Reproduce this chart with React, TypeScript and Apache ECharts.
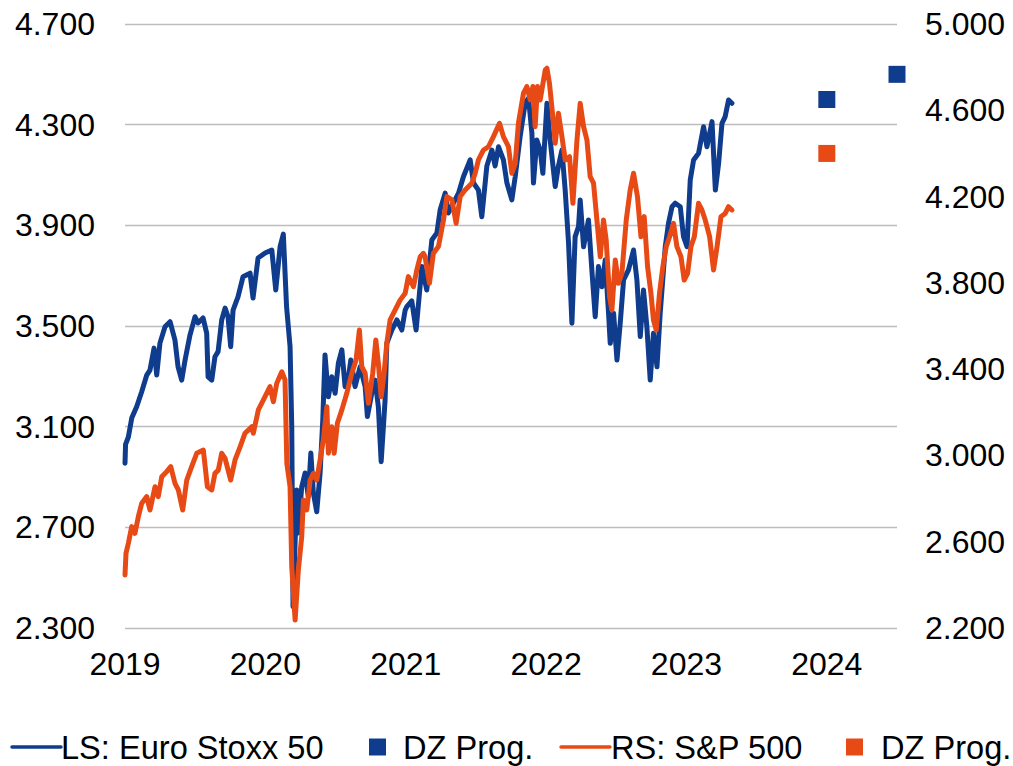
import React, { useEffect, useRef } from "react";
import * as echarts from "echarts";

// x values are decimal years (2019.5 = mid-2019)
const euroStoxx50: [number, number][] = [
  [2019.0, 2955], [2019.004, 3030], [2019.024, 3059], [2019.048, 3134], [2019.083, 3179], [2019.119, 3239],
  [2019.155, 3305], [2019.178, 3325], [2019.207, 3412], [2019.226, 3305], [2019.249, 3432], [2019.285, 3497],
  [2019.321, 3517], [2019.356, 3444], [2019.378, 3338], [2019.404, 3285], [2019.428, 3365], [2019.463, 3464],
  [2019.499, 3537], [2019.52, 3512], [2019.556, 3532], [2019.582, 3472], [2019.592, 3298], [2019.618, 3285],
  [2019.641, 3378], [2019.663, 3398], [2019.689, 3524], [2019.713, 3571], [2019.734, 3537], [2019.753, 3418],
  [2019.77, 3563], [2019.805, 3616], [2019.841, 3696], [2019.891, 3710], [2019.912, 3611], [2019.948, 3770],
  [2019.998, 3790], [2020.046, 3802], [2020.074, 3643], [2020.105, 3815], [2020.128, 3865], [2020.151, 3577],
  [2020.176, 3418], [2020.188, 3100], [2020.197, 2385], [2020.224, 2848], [2020.233, 2677], [2020.259, 2861],
  [2020.283, 2916], [2020.306, 2822], [2020.324, 2995], [2020.342, 2836], [2020.366, 2762], [2020.39, 2916],
  [2020.409, 3126], [2020.425, 3385], [2020.449, 3219], [2020.473, 3298], [2020.497, 3233], [2020.52, 3352],
  [2020.545, 3405], [2020.568, 3259], [2020.592, 3298], [2020.609, 3365], [2020.639, 3259], [2020.675, 3338],
  [2020.711, 3259], [2020.727, 3140], [2020.758, 3233], [2020.782, 3285], [2020.805, 3179], [2020.825, 2961],
  [2020.853, 3206], [2020.865, 3431], [2020.901, 3484], [2020.937, 3524], [2020.972, 3484], [2020.996, 3563],
  [2021.008, 3577], [2021.043, 3600], [2021.074, 3484], [2021.115, 3736], [2021.15, 3643], [2021.186, 3842],
  [2021.222, 3870], [2021.245, 3961], [2021.281, 4028], [2021.304, 3949], [2021.34, 3989], [2021.376, 4028],
  [2021.411, 4093], [2021.459, 4160], [2021.483, 4068], [2021.518, 4040], [2021.542, 3934], [2021.578, 4136],
  [2021.614, 4199], [2021.637, 4136], [2021.661, 4212], [2021.696, 4160], [2021.721, 4068], [2021.756, 4001],
  [2021.78, 4093], [2021.815, 4252], [2021.851, 4386], [2021.875, 4405], [2021.899, 4266], [2021.91, 4068],
  [2021.934, 4239], [2021.958, 4199], [2021.977, 4107], [2022.006, 4385], [2022.029, 4239], [2022.065, 4054],
  [2022.088, 4136], [2022.113, 4199], [2022.136, 4040], [2022.16, 3829], [2022.184, 3511], [2022.207, 3855],
  [2022.231, 3895], [2022.243, 4001], [2022.267, 3815], [2022.302, 3921], [2022.326, 3723], [2022.35, 3537],
  [2022.373, 3736], [2022.398, 3656], [2022.421, 3762], [2022.445, 3551], [2022.457, 3431], [2022.481, 3551],
  [2022.505, 3365], [2022.528, 3511], [2022.552, 3683], [2022.587, 3723], [2022.623, 3802], [2022.647, 3683],
  [2022.671, 3458], [2022.694, 3643], [2022.718, 3497], [2022.742, 3285], [2022.765, 3471], [2022.79, 3338],
  [2022.813, 3551], [2022.849, 3815], [2022.872, 3908], [2022.897, 3974], [2022.92, 3988], [2022.956, 3974],
  [2022.979, 3855], [2023.004, 3815], [2023.027, 4080], [2023.051, 4160], [2023.086, 4186], [2023.122, 4292],
  [2023.146, 4212], [2023.182, 4312], [2023.206, 4040], [2023.229, 4146], [2023.253, 4305], [2023.276, 4332],
  [2023.3, 4398], [2023.324, 4385],
];

const sp500: [number, number][] = [
  [2019.0, 2446], [2019.007, 2546], [2019.024, 2593], [2019.048, 2670], [2019.071, 2639], [2019.095, 2716],
  [2019.119, 2778], [2019.155, 2809], [2019.178, 2747], [2019.214, 2855], [2019.237, 2809], [2019.262, 2901],
  [2019.297, 2925], [2019.326, 2948], [2019.356, 2871], [2019.38, 2840], [2019.411, 2747], [2019.44, 2886],
  [2019.475, 2948], [2019.511, 3010], [2019.558, 3025], [2019.587, 2855], [2019.618, 2840], [2019.641, 2917],
  [2019.665, 2932], [2019.689, 3010], [2019.713, 2986], [2019.753, 2886], [2019.784, 2979], [2019.82, 3040],
  [2019.855, 3103], [2019.903, 3133], [2019.914, 3103], [2019.95, 3211], [2019.986, 3257], [2020.033, 3319],
  [2020.057, 3249], [2020.081, 3334], [2020.117, 3388], [2020.14, 3350], [2020.153, 2963], [2020.176, 2855],
  [2020.188, 2484], [2020.212, 2237], [2020.235, 2469], [2020.259, 2623], [2020.271, 2793], [2020.295, 2747],
  [2020.319, 2886], [2020.342, 2917], [2020.366, 2886], [2020.39, 2979], [2020.413, 3072], [2020.438, 3226],
  [2020.449, 3010], [2020.473, 3133], [2020.49, 3010], [2020.513, 3149], [2020.545, 3211], [2020.58, 3288],
  [2020.616, 3381], [2020.646, 3442], [2020.67, 3581], [2020.687, 3411], [2020.711, 3381], [2020.734, 3242],
  [2020.765, 3381], [2020.787, 3535], [2020.805, 3427], [2020.825, 3272], [2020.846, 3381], [2020.865, 3520],
  [2020.889, 3628], [2020.924, 3674], [2020.96, 3720], [2020.996, 3752], [2021.019, 3829], [2021.055, 3782],
  [2021.079, 3860], [2021.103, 3921], [2021.126, 3937], [2021.138, 3921], [2021.169, 3798], [2021.197, 3937],
  [2021.233, 3968], [2021.269, 4091], [2021.293, 4200], [2021.329, 4185], [2021.359, 4076], [2021.388, 4200],
  [2021.423, 4230], [2021.471, 4262], [2021.495, 4308], [2021.518, 4370], [2021.554, 4416], [2021.589, 4431],
  [2021.625, 4478], [2021.668, 4540], [2021.696, 4478], [2021.732, 4431], [2021.756, 4308], [2021.78, 4354],
  [2021.803, 4540], [2021.839, 4679], [2021.863, 4710], [2021.887, 4648], [2021.906, 4710], [2021.922, 4524],
  [2021.939, 4710], [2021.958, 4648], [2021.994, 4787], [2022.006, 4795], [2022.024, 4725], [2022.048, 4570],
  [2022.065, 4447], [2022.088, 4586], [2022.113, 4478], [2022.136, 4370], [2022.167, 4385], [2022.191, 4169],
  [2022.22, 4462], [2022.243, 4632], [2022.267, 4524], [2022.291, 4462], [2022.314, 4293], [2022.338, 4262],
  [2022.362, 4091], [2022.386, 3921], [2022.409, 4091], [2022.428, 3999], [2022.452, 3736], [2022.469, 3674],
  [2022.493, 3906], [2022.516, 3798], [2022.54, 3844], [2022.571, 4091], [2022.599, 4230], [2022.623, 4308],
  [2022.651, 4200], [2022.676, 4014], [2022.699, 4107], [2022.723, 3875], [2022.747, 3752], [2022.765, 3628],
  [2022.785, 3581], [2022.808, 3752], [2022.832, 3875], [2022.856, 3968], [2022.88, 4014], [2022.908, 4076],
  [2022.932, 3968], [2022.961, 3921], [2022.984, 3813], [2023.008, 3844], [2023.032, 3968], [2023.056, 4014],
  [2023.086, 4169], [2023.11, 4138], [2023.134, 4091], [2023.165, 4014], [2023.193, 3860], [2023.218, 3968],
  [2023.246, 4107], [2023.276, 4122], [2023.3, 4153], [2023.324, 4138],
];

const euroForecast: [number, number][] = [[2024.0, 4400], [2024.5, 4500]];
const spForecast: [number, number][] = [[2024.0, 4400]];

const leftTicks = { min: 2300, max: 4700, interval: 400 };
const rightTicks = { min: 2200, max: 5000, interval: 400 };
const xRange = { min: 2019, max: 2024.5, interval: 1 };

const legendLabels = ["LS: Euro Stoxx 50", "DZ Prog.", "RS: S&P 500", "DZ Prog."];

const BLUE = "#0F3C8C";
const ORANGE = "#E84A16";
const FONT = "'Liberation Sans', Arial, sans-serif";

const fmt = (v: number) =>
  String(Math.round(v)).replace(/\B(?=(\d{3})+(?!\d))/g, ".");

export default function App() {
  const ref = useRef<HTMLDivElement>(null);
  useEffect(() => {
    if (!ref.current) return;
    const chart = echarts.init(ref.current, undefined, { renderer: "svg" });
    const labelStyle = { color: "#000", fontSize: 32, fontFamily: FONT };
    const ly = 747;
    const legendText = (text: string, x: number) => ({
      type: "text",
      x,
      y: ly,
      style: { text, fill: "#000", fontSize: 32.6, fontFamily: FONT, verticalAlign: "middle", align: "left" },
    });
    chart.setOption({
      animation: false,
      backgroundColor: "#fff",
      grid: { left: 125, right: 116, top: 24, bottom: 138, containLabel: false },
      xAxis: {
        type: "value",
        min: xRange.min,
        max: xRange.max,
        interval: xRange.interval,
        axisLine: { show: false },
        axisTick: { show: false },
        splitLine: { show: false },
        axisLabel: {
          ...labelStyle,
          margin: 20,
          showMaxLabel: false,
          formatter: (v: number) => (Math.abs(v - Math.round(v)) < 1e-6 ? String(Math.round(v)) : ""),
        },
      },
      yAxis: [
        {
          type: "value",
          ...leftTicks,
          axisLine: { show: false },
          axisTick: { show: false },
          splitLine: { show: true, lineStyle: { color: "#BDBDBD", width: 1.3 } },
          axisLabel: { ...labelStyle, margin: 30, formatter: fmt },
        },
        {
          type: "value",
          ...rightTicks,
          position: "right",
          axisLine: { show: false },
          axisTick: { show: false },
          splitLine: { show: false },
          axisLabel: { ...labelStyle, margin: 28, formatter: fmt },
        },
      ],
      series: [
        {
          name: legendLabels[0],
          type: "line",
          yAxisIndex: 0,
          data: euroStoxx50,
          showSymbol: false,
          symbol: "none",
          lineStyle: { color: BLUE, width: 5, join: "round", cap: "round" },
          z: 2,
        },
        {
          name: legendLabels[1],
          type: "scatter",
          yAxisIndex: 0,
          data: euroForecast,
          symbol: "rect",
          symbolSize: 17,
          itemStyle: { color: BLUE, opacity: 1 },
          z: 4,
        },
        {
          name: legendLabels[2],
          type: "line",
          yAxisIndex: 1,
          data: sp500,
          showSymbol: false,
          symbol: "none",
          lineStyle: { color: ORANGE, width: 5, join: "round", cap: "round" },
          z: 3,
        },
        {
          name: legendLabels[3],
          type: "scatter",
          yAxisIndex: 1,
          data: spForecast,
          symbol: "rect",
          symbolSize: 17,
          itemStyle: { color: ORANGE, opacity: 1 },
          z: 4,
        },
      ],
      graphic: [
        { type: "line", shape: { x1: 12, y1: ly, x2: 61, y2: ly }, style: { stroke: BLUE, lineWidth: 3.5, lineCap: "round" } },
        legendText(legendLabels[0], 61),
        { type: "rect", shape: { x: 369, y: ly - 8.5, width: 17, height: 17 }, style: { fill: BLUE } },
        legendText(legendLabels[1], 403),
        { type: "line", shape: { x1: 561, y1: ly, x2: 610, y2: ly }, style: { stroke: ORANGE, lineWidth: 3.5, lineCap: "round" } },
        legendText(legendLabels[2], 611),
        { type: "rect", shape: { x: 846, y: ly - 8.5, width: 17, height: 17 }, style: { fill: ORANGE } },
        legendText(legendLabels[3], 881),
      ],
    });
    return () => chart.dispose();
  }, []);
  return (
    <div
      ref={ref}
      style={{ position: "fixed", left: 0, top: 0, width: 1013, height: 766, background: "#fff" }}
    />
  );
}
